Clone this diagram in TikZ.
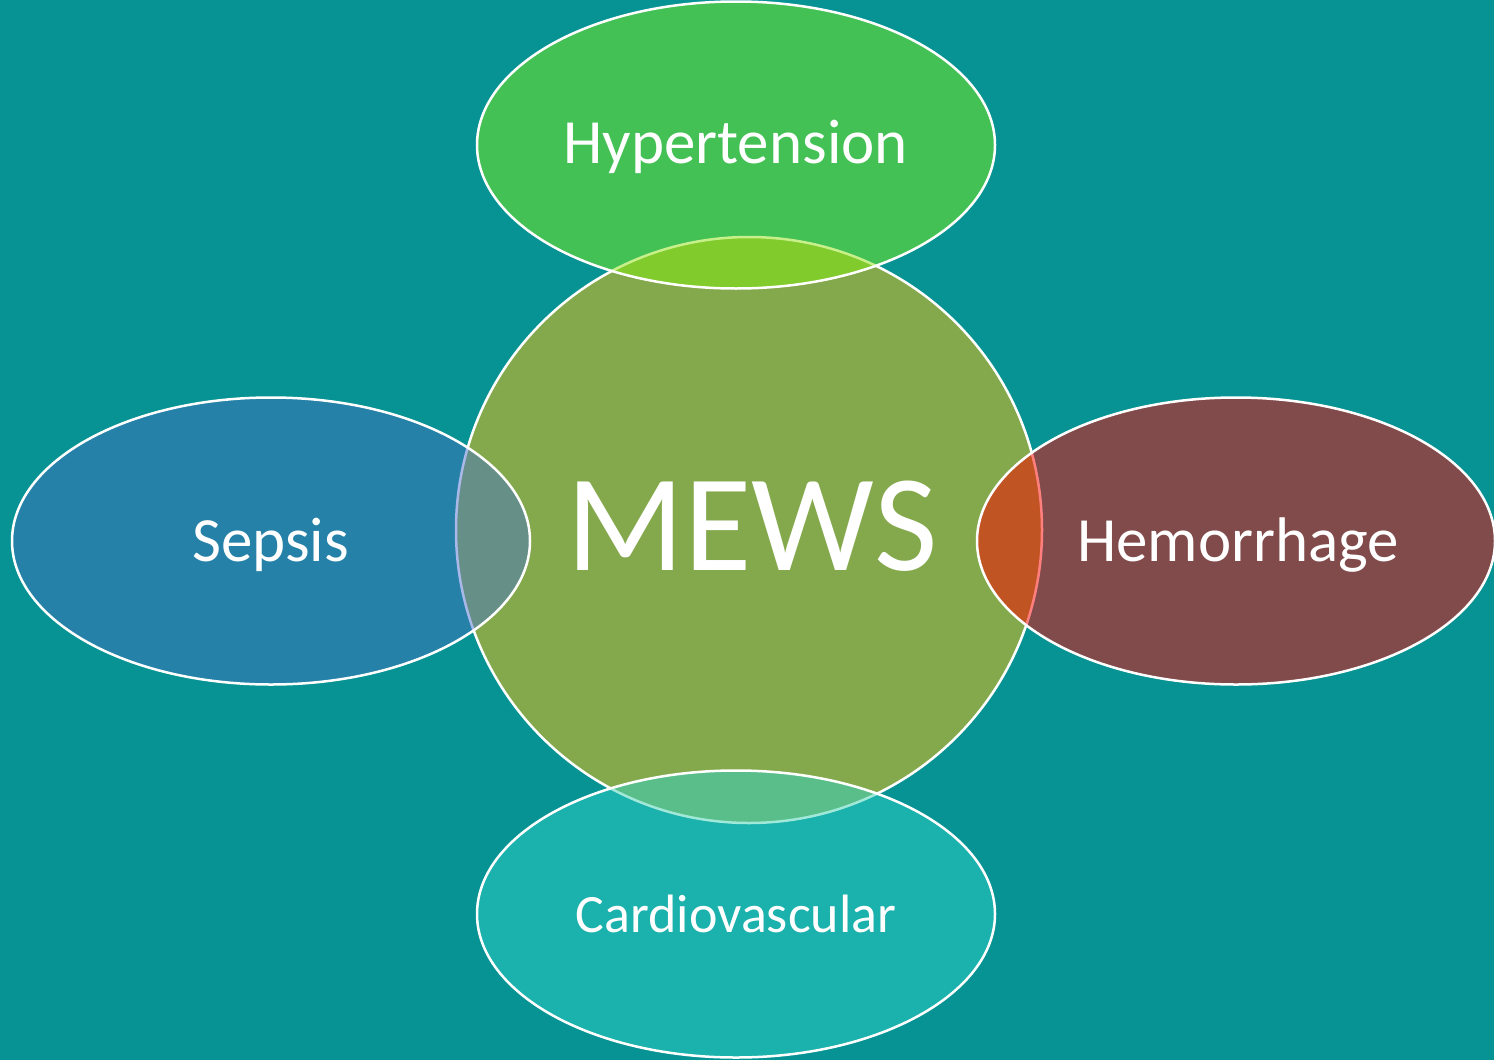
\documentclass[tikz,border=0pt]{standalone}
\usepackage{fontspec}
\setmainfont{Carlito}
\usetikzlibrary{shapes.geometric}
\definecolor{bg}{HTML}{079393}
\definecolor{mewsc}{HTML}{84A94C}
\definecolor{hypc}{HTML}{44C155}
\definecolor{hypo}{HTML}{82CB2D}
\definecolor{hypl}{HTML}{C8F08A}
\definecolor{sepc}{HTML}{2581A8}
\definecolor{sepo}{HTML}{658F87}
\definecolor{sepl}{HTML}{A8B8E8}
\definecolor{hemc}{HTML}{824B4B}
\definecolor{hemo}{HTML}{C15423}
\definecolor{heml}{HTML}{FF7F7F}
\definecolor{carc}{HTML}{1BB1AC}
\definecolor{caro}{HTML}{5ABE8B}
\definecolor{carl}{HTML}{A0E8D8}
\tikzset{
  outl/.style={line width=2.5pt},
  blob/.style={ellipse, inner sep=0pt, minimum width=518pt, minimum height=287pt},
  lab/.style={text=white, anchor=base, inner sep=0pt, font=\fontsize{63}{63}\selectfont},
}
\begin{document}
\begin{tikzpicture}[x=1pt,y=-1pt]
\fill[bg] (0,0) rectangle (1494,1060);
\useasboundingbox (0,0) rectangle (1494,1060);
% central circle
\node[circle, inner sep=0pt, minimum size=586pt, fill=mewsc, draw=white, outl] (mews) at (749,530) {};
% outer ellipses (fills)
\node[blob, fill=hypc] (hyp) at (736,145) {};
\node[blob, fill=sepc] (sep) at (271,541) {};
\node[blob, fill=hemc] (hem) at (1236,541) {};
\node[blob, fill=carc] (car) at (736,914) {};
% overlaps
\begin{scope}
  \clip (749,530) circle[radius=293];
  \fill[hypo] (736,145) ellipse[x radius=259, y radius=143.5];
  \fill[sepo] (271,541) ellipse[x radius=259, y radius=143.5];
  \fill[hemo] (1236,541) ellipse[x radius=259, y radius=143.5];
  \fill[caro] (736,914) ellipse[x radius=259, y radius=143.5];
\end{scope}
% tinted circle outline inside ellipses
\begin{scope}
  \clip (736,145) ellipse[x radius=259, y radius=143.5];
  \draw[hypl, outl] (749,530) circle[radius=293];
\end{scope}
\begin{scope}
  \clip (271,541) ellipse[x radius=259, y radius=143.5];
  \draw[sepl, outl] (749,530) circle[radius=293];
\end{scope}
\begin{scope}
  \clip (1236,541) ellipse[x radius=259, y radius=143.5];
  \draw[heml, outl] (749,530) circle[radius=293];
\end{scope}
\begin{scope}
  \clip (736,914) ellipse[x radius=259, y radius=143.5];
  \draw[carl, outl] (749,530) circle[radius=293];
\end{scope}
% ellipse outlines
\draw[white, outl] (736,145) ellipse[x radius=259, y radius=143.5];
\draw[white, outl] (271,541) ellipse[x radius=259, y radius=143.5];
\draw[white, outl] (1236,541) ellipse[x radius=259, y radius=143.5];
\draw[white, outl] (736,914) ellipse[x radius=259, y radius=143.5];
% labels
\node[lab, font=\fontsize{138}{138}\selectfont] (mewst) at (752,570) {MEWS};
\node[lab] (hypt) at (735.5,163) {Hypertension};
\node[lab] (sept) at (270.5,561) {Sepsis};
\node[lab] (hemt) at (1238,561) {Hemorrhage};
\node[lab, font=\fontsize{54}{54}\selectfont] (cart) at (736,932) {Cardiovascular};
\end{tikzpicture}
\end{document}
